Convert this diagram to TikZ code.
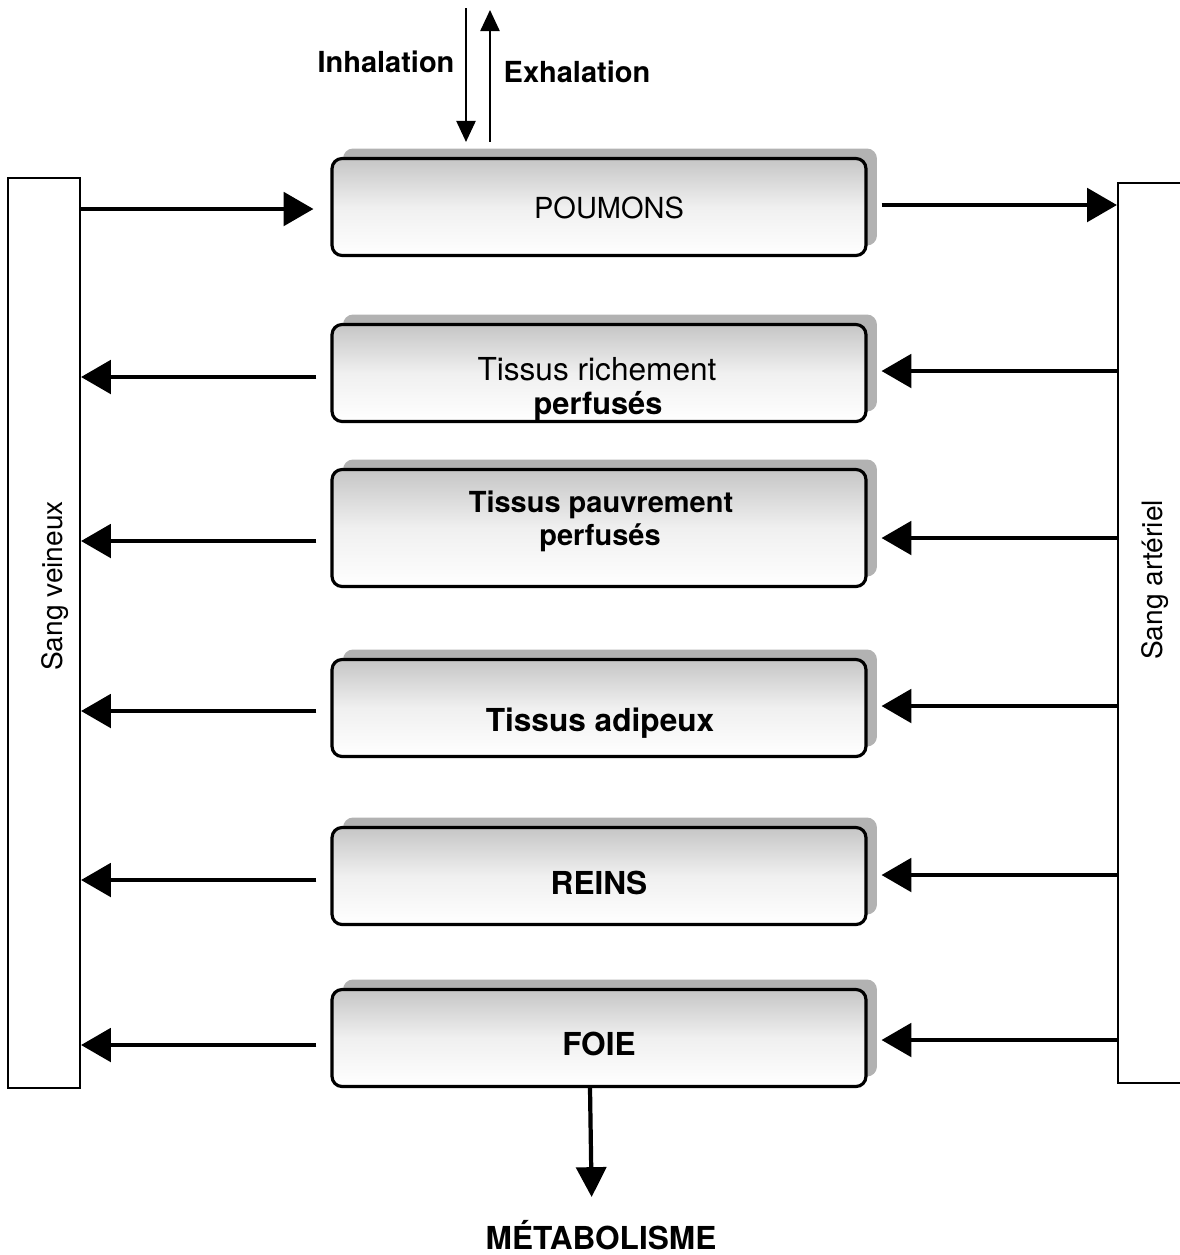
\documentclass[tikz,border=0pt]{standalone}
\usepackage{fontspec}
\setmainfont{TeX Gyre Heros}
\usetikzlibrary{arrows.meta,shadows,calc}
\begin{document}
\begin{tikzpicture}[x=0.02cm,y=-0.02cm,
  organ/.style={draw=black, line width=1.8pt, rounded corners=0.2cm,
    minimum width=10.68cm, minimum height=1.94cm,
    top color=gray!45, bottom color=white, middle color=gray!12,
    general shadow={fill=gray!60, shadow xshift=0.22cm, shadow yshift=0.2cm}},
  txt/.style={anchor=base, inner sep=0pt, font=\fontsize{16.5}{20}\selectfont},
  btxt/.style={txt, font=\fontsize{16.5}{20}\selectfont\bfseries},
  bigb/.style={txt, font=\fontsize{18}{20}\selectfont\bfseries},
  bar/.style={draw=black, line width=1.2pt, fill=white, inner sep=0pt},
  flow/.style={line width=2.4pt, -{Triangle[length=17pt,width=19pt]}},
  breath/.style={line width=0.9pt, -{Triangle[length=12pt,width=11pt]}}
]
\useasboundingbox (0,0) rectangle (1180,1255);

% blood bars
\node[bar, minimum width=1.44cm, minimum height=18.2cm] (vein) at (44,633) {};
\node[rotate=90, font=\fontsize{16}{20}\selectfont] (veinlbl) at (55,586) {Sang veineux};
\node[bar, minimum width=1.6cm, minimum height=18cm] (art) at (1158,633) {};
\node[rotate=90, font=\fontsize{16}{20}\selectfont] (artlbl) at (1155,580) {Sang artériel};

% organ boxes
\node[organ] (poumons) at (599,207) {};
\node[organ] (riche) at (599,373) {};
\node[organ, minimum height=2.34cm] (pauvre) at (599,528) {};
\node[organ] (adipeux) at (599,708) {};
\node[organ] (reins) at (599,876) {};
\node[organ] (foie) at (599,1038) {};

% organ texts
\node[txt] (tpoumons) at (609,218) {POUMONS};
\node[txt, font=\fontsize{18}{20}\selectfont] (triche1) at (597,380) {Tissus richement};
\node[txt, font=\fontsize{17.5}{20}\selectfont\bfseries] (triche2) at (598,414) {perfusés};
\node[btxt] (tpauvre1) at (601,512) {Tissus pauvrement};
\node[btxt] (tpauvre2) at (600,545) {perfusés};
\node[bigb] (tadipeux) at (600,731) {Tissus adipeux};
\node[bigb] (treins) at (599,894) {REINS};
\node[bigb] (tfoie) at (599,1055) {FOIE};

% breathing
\coordinate (inh) at (466,8);
\coordinate (exh) at (490,10);
\draw[breath, shorten >=0.3cm] (inh) -- (inh |- poumons.north);
\draw[breath, shorten <=0.3cm] (exh |- poumons.north) -- (exh);
\node[btxt] (inhlbl) at (386,72) {Inhalation};
\node[btxt] (exhlbl) at (577,82) {Exhalation};

% lungs flows
\draw[flow, shorten >=0.34cm] (vein.east |- 0,209) -- (poumons.west |- 0,209);
\draw[flow, shorten <=0.28cm] (poumons.east |- 0,205) -- (art.west |- 0,205);

% organ flows
\foreach \n/\yl/\yr in {riche/377/371, pauvre/541/538, adipeux/711/706, reins/880/875, foie/1045/1040}{
  \draw[flow, shorten <=0.28cm] (\n.west |- 0,\yl) -- (vein.east |- 0,\yl);
  \draw[flow, shorten >=0.28cm] (art.west |- 0,\yr) -- (\n.east |- 0,\yr);
}

% metabolism
\node[bigb] (meta) at (601,1249) {MÉTABOLISME};
\draw[flow, -{Triangle[length=17pt,width=17pt]}, shorten >=0.45cm] ([xshift=-0.18cm]foie.south) -- ([xshift=-0.18cm]meta.north);
\end{tikzpicture}
\end{document}
